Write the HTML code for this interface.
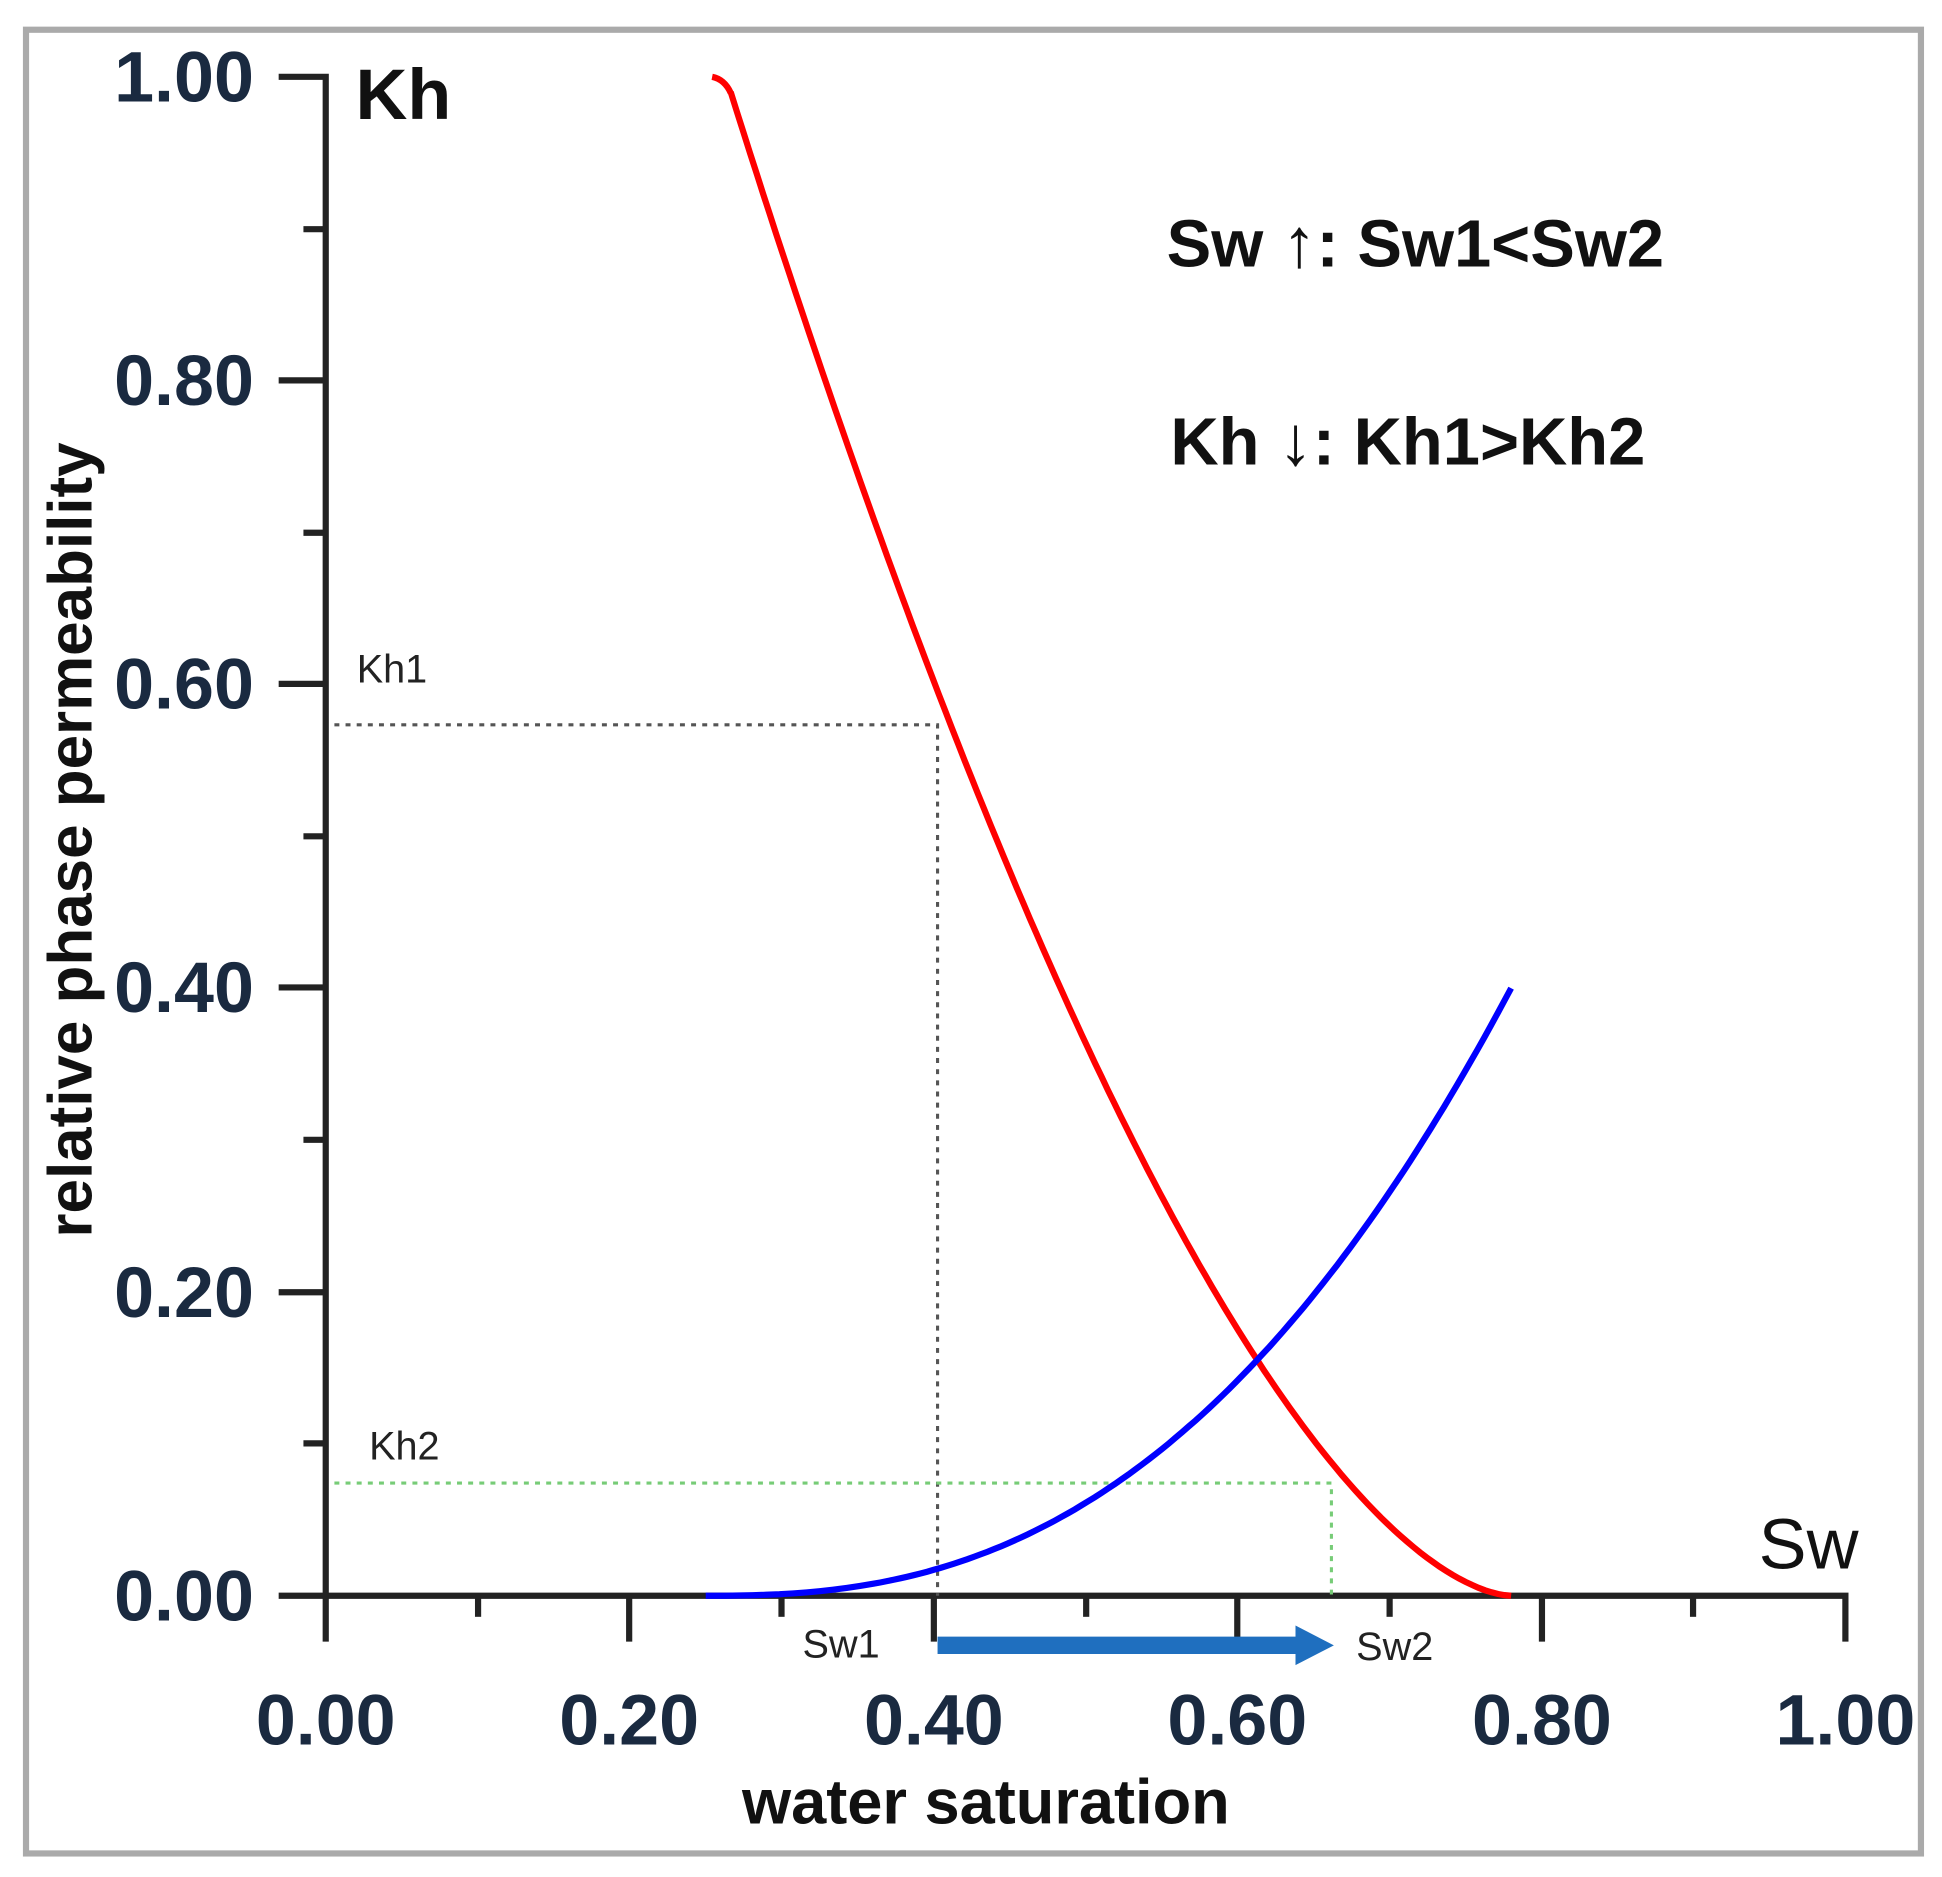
<!DOCTYPE html>
<html><head><meta charset="utf-8"><style>
html,body{margin:0;padding:0;background:#fff;}
svg{display:block;}
text{font-family:"Liberation Sans",sans-serif;}
</style></head><body>
<svg width="1942" height="1877" viewBox="0 0 1568 1515" preserveAspectRatio="none" xmlns="http://www.w3.org/2000/svg">
<rect x="0" y="0" width="1568" height="1515" fill="#fff"/>
<rect x="21" y="24" width="1530" height="1472" fill="none" stroke="#aaa" stroke-width="5"/>
<g stroke="#222" stroke-width="5" fill="none">
<polyline points="225,62 263,62 263,1288 1490,1288 1490,1325"/>
<line x1="225" y1="307" x2="263" y2="307"/><line x1="225" y1="552" x2="263" y2="552"/>
<line x1="225" y1="797" x2="263" y2="797"/><line x1="225" y1="1043" x2="263" y2="1043"/>
<line x1="225" y1="1288" x2="263" y2="1288"/>
<line x1="245" y1="185" x2="263" y2="185"/><line x1="245" y1="430" x2="263" y2="430"/>
<line x1="245" y1="675" x2="263" y2="675"/><line x1="245" y1="920" x2="263" y2="920"/>
<line x1="245" y1="1165" x2="263" y2="1165"/>
<line x1="263" y1="1288" x2="263" y2="1325"/><line x1="508" y1="1288" x2="508" y2="1325"/>
<line x1="754" y1="1288" x2="754" y2="1325"/><line x1="999" y1="1288" x2="999" y2="1325"/>
<line x1="1245" y1="1288" x2="1245" y2="1325"/>
<line x1="386" y1="1288" x2="386" y2="1305"/><line x1="631" y1="1288" x2="631" y2="1305"/>
<line x1="877" y1="1288" x2="877" y2="1305"/><line x1="1122" y1="1288" x2="1122" y2="1305"/>
<line x1="1367" y1="1288" x2="1367" y2="1305"/>
</g>
<g font-size="58" font-weight="bold" fill="#1a2a40" text-anchor="end">
<text x="205" y="82">1.00</text><text x="205" y="327">0.80</text><text x="205" y="572">0.60</text>
<text x="205" y="817">0.40</text><text x="205" y="1063">0.20</text><text x="205" y="1308">0.00</text>
</g>
<g font-size="58" font-weight="bold" fill="#1a2a40" text-anchor="middle">
<text x="263" y="1408">0.00</text><text x="508" y="1408">0.20</text><text x="754" y="1408">0.40</text>
<text x="999" y="1408">0.60</text><text x="1245" y="1408">0.80</text><text x="1490" y="1408">1.00</text>
</g>
<text x="796" y="1472" font-size="51" font-weight="bold" text-anchor="middle" fill="#111">water saturation</text>
<text transform="translate(74,678) rotate(-90)" font-size="50" font-weight="bold" text-anchor="middle" fill="#111">relative phase permeability</text>
<g stroke-width="2.5" stroke-dasharray="4,5" fill="none">
<polyline points="270,585 757,585 757,1288" stroke="#555"/>
<polyline points="270,1197 1075,1197 1075,1288" stroke="#7c7"/>
</g>
<path id="red" fill="none" stroke="#f00" stroke-width="5"/>
<path id="blue" fill="none" stroke="#00f" stroke-width="5"/>
<line x1="757" y1="1328" x2="1050" y2="1328" stroke="#1f6fbf" stroke-width="14"/>
<polygon points="1046,1312 1077,1328 1046,1344" fill="#1f6fbf"/>
<g font-size="32" fill="#222">
<text x="288" y="551">Kh1</text><text x="298" y="1178">Kh2</text>
<text x="648" y="1338">Sw1</text><text x="1095" y="1340">Sw2</text>
</g>
<text x="287" y="96" font-size="58" font-weight="bold" fill="#111">Kh</text>
<text x="1420" y="1266" font-size="58" fill="#111">Sw</text>
<g font-size="54" font-weight="bold" fill="#111">
<text x="942" y="215">Sw <tspan font-size="56" font-weight="normal">↑</tspan>: Sw1&lt;Sw2</text>
<text x="945" y="375">Kh <tspan font-size="56" font-weight="normal">↓</tspan>: Kh1&gt;Kh2</text>
</g>
<script>
function X(v){return 263+1227*v;} function Y(v){return 1288-1226*v;}
var r="M575,62 Q585,64 590,75";
for(var i=0;i<=120;i++){var s=0.2665+(0.78-0.2665)*i/120;var k=0.99*Math.pow(Math.max(0,(0.78-s)/0.5135),1.65);r+=" L"+X(s).toFixed(1)+","+Y(k).toFixed(1);}
var b="";
for(var i=0;i<=120;i++){var s=0.25+0.53*i/120;var k=0.4*Math.pow((s-0.25)/0.53,2.5);b+=(i?" L":"M")+X(s).toFixed(1)+","+Y(k).toFixed(1);}
document.getElementById("red").setAttribute("d",r);
document.getElementById("blue").setAttribute("d",b);
</script>
</svg>
</body></html>
